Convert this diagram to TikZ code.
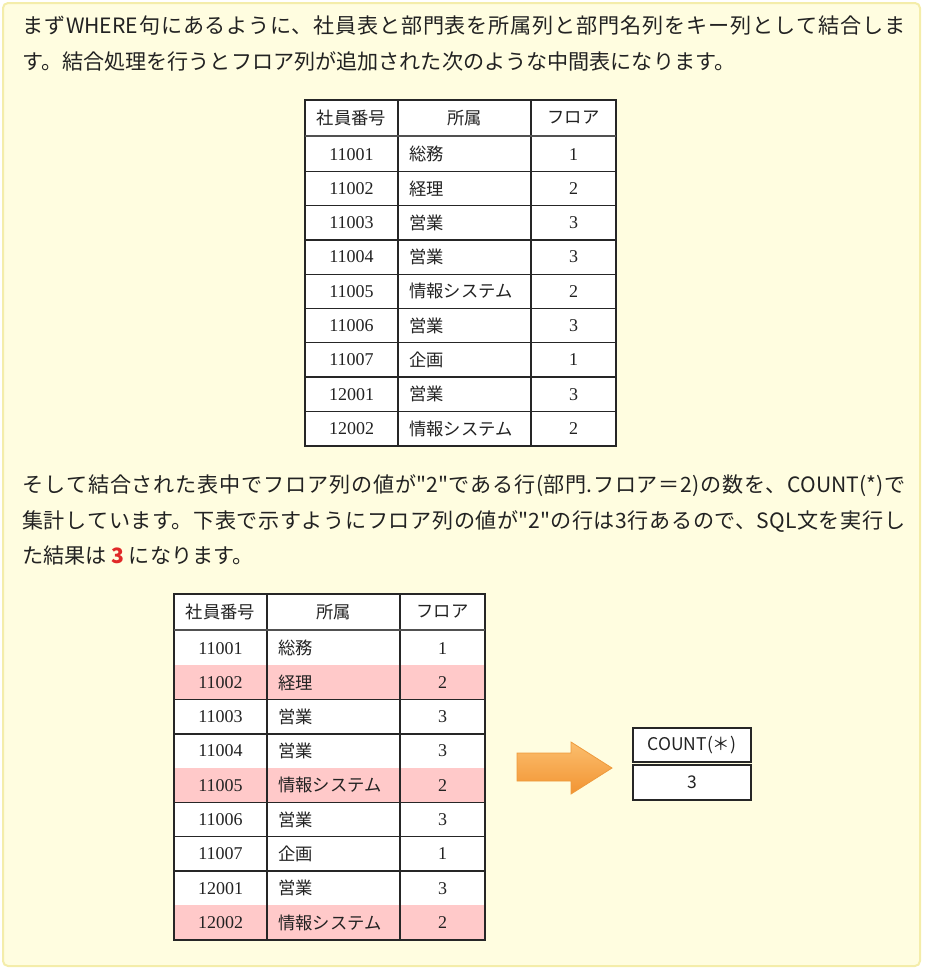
\documentclass[tikz,border=0pt]{standalone}
\usepackage{fontspec}
\setmainfont{Noto Sans CJK JP}
\newfontfamily\jpf{Noto Sans CJK JP}
\newfontfamily\numf{Liberation Serif}
\definecolor{bgfill}{HTML}{FFFDE0}
\definecolor{bgdraw}{HTML}{F4EDAA}
\definecolor{txtcol}{HTML}{222222}
\definecolor{redtxt}{HTML}{E02828}
\definecolor{pinkrow}{HTML}{FFC9C9}
\definecolor{gridcol}{HTML}{262626}
\definecolor{arrowtop}{HTML}{FBBE6E}
\definecolor{arrowbot}{HTML}{F29432}
\definecolor{arrowdraw}{HTML}{EE9A3C}
\tikzset{
  txt/.style={anchor=base west, inner sep=0pt, text=txtcol, font=\jpf\fontsize{21.1}{24}\selectfont},
  numcell/.style={inner sep=0pt, text=txtcol, font=\numf\fontsize{18}{20}\selectfont},
  jpcell/.style={inner sep=0pt, text=txtcol, font=\jpf\fontsize{17.3}{20}\selectfont},
  gridline/.style={draw=gridcol, line width=1.3pt},
  headsep/.style={draw=gridcol!80, line width=2.6pt},
  cntbox/.style={draw=gridcol, line width=1.4pt, fill=white},
}
\newcommand\jline[1]{\parbox[t]{883pt}{\XeTeXlinebreaklocale "ja"\XeTeXlinebreakskip=0pt plus 3pt\relax\parfillskip=0pt\relax\noindent #1}}
\newcommand\joinedtable[3]{%
  % #1 = left x, #2 = top y, #3 = name prefix
  \pgfmathsetmacro\xa{#1}\pgfmathsetmacro\xb{#1+93}%
  \pgfmathsetmacro\xc{#1+226}\pgfmathsetmacro\xd{#1+311}%
  \pgfmathsetmacro\yh{#2+36}\pgfmathsetmacro\ye{#2+346}%
  \fill[white] (\xa,#2) rectangle (\xd,\ye);
  \foreach \num/\dept/\fl/\pk [count=\i] in {11001/総務/1/0,11002/経理/2/1,11003/営業/3/0,11004/営業/3/0,11005/情報システム/2/1,11006/営業/3/0,11007/企画/1/0,12001/営業/3/0,12002/情報システム/2/1}{
    \pgfmathsetmacro\ya{#2+37+(\i-1)*34.3}
    \pgfmathsetmacro\ym{\ya+17.15}
    \pgfmathsetmacro\yz{\ya+34.3}
    \ifnum\pk=1\ifx#3b\fill[pinkrow] (\xa,\ya) rectangle (\xd,\yz);\fi\fi
    \node[numcell] (#3n\i) at ({(\xa+\xb)/2},\ym) {\num};
    \node[jpcell, anchor=west] (#3d\i) at (\xb+11,\ym) {\dept};
    \node[numcell] (#3f\i) at ({(\xc+\xd)/2},\ym) {\fl};
    \draw[gridline] (\xa,\yz) -- (\xd,\yz);
  }
  \node[jpcell] (#3h1) at ({(\xa+\xb)/2},#2+18) {社員番号};
  \node[jpcell] (#3h2) at ({(\xb+\xc)/2},#2+18) {所属};
  \node[jpcell] (#3h3) at ({(\xc+\xd)/2},#2+18) {フロア};
  \draw[gridline] (\xa,#2) rectangle (\xd,\ye);
  \draw[gridline] (\xb,#2) -- (\xb,\ye);
  \draw[gridline] (\xc,#2) -- (\xc,\ye);
  \draw[headsep] (\xa,\yh) -- (\xd,\yh);
}
\begin{document}
\begin{tikzpicture}[x=1pt,y=-1pt]
\useasboundingbox (0,0) rectangle (925,970);
\draw[fill=bgfill, draw=bgdraw, line width=2pt, rounded corners=5pt] (3,3) rectangle (920,966);

\node[txt] (l1) at (22,33) {\jline{まずWHERE句にあるように、社員表と部門表を所属列と部門名列をキー列として結合しま}};
\node[txt] (l2) at (22,69) {す。結合処理を行うとフロア列が追加された次のような中間表になります。};

\joinedtable{305}{100}{a}

\node[txt] (l3) at (22,492) {\jline{そして結合された表中でフロア列の値が"2"である行(部門.フロア＝2)の数を、COUNT(*)で}};
\node[txt] (l4) at (22,528) {\jline{集計しています。下表で示すようにフロア列の値が"2"の行は3行あるので、SQL文を実行し}};
\node[txt] (l5) at (22,563) {た結果は \textcolor{redtxt}{\textbf{3}} になります。};

\joinedtable{174}{594}{b}

% arrow
\draw[arrowdraw, line width=0.8pt, top color=arrowtop, bottom color=arrowbot]
  (517,753) -- (571,753) -- (571,742) -- (612,768) -- (571,794) -- (571,781) -- (517,781) -- cycle;

% COUNT box
\draw[cntbox] (633,728) rectangle (751,762);
\draw[cntbox] (633,765) rectangle (751,800);
\node[jpcell, font=\jpf\fontsize{17.5}{20}\selectfont] (cnth) at (692,745) {COUNT(＊)};
\node[jpcell, font=\jpf\fontsize{17.5}{20}\selectfont] (cntv) at (692,782) {3};
\end{tikzpicture}
\end{document}
